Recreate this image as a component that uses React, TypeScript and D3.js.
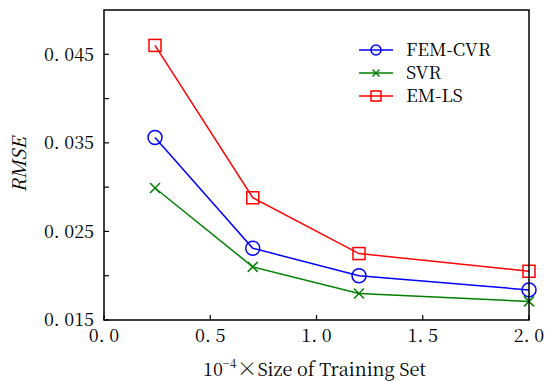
import React from "react";
import * as d3 from "d3";

const sizes = [0.24, 0.7, 1.2, 2.0];
const femCvr = [0.0356, 0.0231, 0.0200, 0.0184];
const svr = [0.0299, 0.0210, 0.0180, 0.0171];
const emLs = [0.0460, 0.0288, 0.0225, 0.0205];
const yTickValues = [0.015, 0.025, 0.035, 0.045];
const yTickLabels = ["0. 015", "0. 025", "0. 035", "0. 045"];
const yMinorTicks = [0.02, 0.03, 0.04];
const xTickValues = [0, 0.5, 1.0, 1.5, 2.0];
const xTickLabels = ["0. 0", "0. 5", "1. 0", "1. 5", "2. 0"];
const seriesNames = ["FEM-CVR", "SVR", "EM-LS"];
const seriesColors = ["#0000ff", "#008000", "#ff0000"];
const seriesMarkers = ["circle", "x", "square"];

const W = 558, H = 381;
const M = { left: 104, right: 529, top: 10, bottom: 320 };
const serif = { fontFamily: "Noto Serif CJK SC" };

function Marker({ type, x, y, color, s }: { type: string; x: number; y: number; color: string; s: number }) {
  if (type === "circle") return <circle cx={x} cy={y} r={s} fill="none" stroke={color} strokeWidth={1.5} />;
  if (type === "square") return <rect x={x - s} y={y - s} width={2 * s} height={2 * s} fill="none" stroke={color} strokeWidth={1.5} />;
  return (
    <g stroke={color} strokeWidth={1.5}>
      <line x1={x - s} y1={y - s} x2={x + s} y2={y + s} />
      <line x1={x - s} y1={y + s} x2={x + s} y2={y - s} />
    </g>
  );
}

export default function App() {
  const x = d3.scaleLinear().domain([0, 2]).range([M.left, M.right]);
  const y = d3.scaleLinear().domain([0.015, 0.05]).range([M.bottom, M.top]);
  const line = d3.line<number>().x((_, i) => x(sizes[i])).y((d) => y(d));
  const data = [femCvr, svr, emLs];
  const markerSize = [7, 5, 6];
  const legendY = [50, 73, 96];
  return (
    <svg width={W} height={H} style={{ position: "absolute", left: 0, top: 0, background: "#fff" }}>
      {data.map((vals, k) => (
        <g key={k}>
          <path d={line(vals) || ""} fill="none" stroke={seriesColors[k]} strokeWidth={1.5} />
          {vals.map((v, i) => (
            <Marker key={i} type={seriesMarkers[k]} x={x(sizes[i])} y={y(v)} color={seriesColors[k]} s={markerSize[k]} />
          ))}
        </g>
      ))}
      <rect x={M.left} y={M.top} width={M.right - M.left} height={M.bottom - M.top} fill="none" stroke="#000" strokeWidth={1.5} />
      {yTickValues.map((v, i) => (
        <g key={i}>
          <line x1={M.left} x2={M.left + 5} y1={y(v)} y2={y(v)} stroke="#000" strokeWidth={1.2} />
          <text x={M.left - 10} y={y(v)} dy="0.35em" textAnchor="end" fontSize={18} style={serif}>{yTickLabels[i]}</text>
        </g>
      ))}
      {yMinorTicks.map((v, i) => (
        <line key={i} x1={M.left} x2={M.left + 5} y1={y(v)} y2={y(v)} stroke="#000" strokeWidth={1.2} />
      ))}
      {xTickValues.map((v, i) => (
        <g key={i}>
          <line x1={x(v)} x2={x(v)} y1={M.bottom} y2={M.bottom - 5} stroke="#000" strokeWidth={1.2} />
          <text x={x(v)} y={M.bottom + 22} textAnchor="middle" fontSize={18} style={serif}>{xTickLabels[i]}</text>
        </g>
      ))}
      <text x={(M.left + M.right) / 2 - 2} y={376} textAnchor="middle" fontSize={18} style={serif}>
        10<tspan dy={-8} fontSize={12}>−4</tspan><tspan dy={8} fontSize={21}>×</tspan><tspan>Size of Training Set</tspan>
      </text>
      <text transform={`translate(26,${(M.top + M.bottom) / 2}) rotate(-90)`} textAnchor="middle" fontSize={19} fontStyle="italic" style={serif}>RMSE</text>
      {seriesNames.map((n, k) => (
        <g key={k}>
          <line x1={359} x2={393} y1={legendY[k]} y2={legendY[k]} stroke={seriesColors[k]} strokeWidth={1.5} />
          <Marker type={seriesMarkers[k]} x={376} y={legendY[k]} color={seriesColors[k]} s={k === 1 ? 3.5 : 5} />
          <text x={406} y={legendY[k]} dy="0.35em" fontSize={18} style={serif}>{n}</text>
        </g>
      ))}
    </svg>
  );
}
